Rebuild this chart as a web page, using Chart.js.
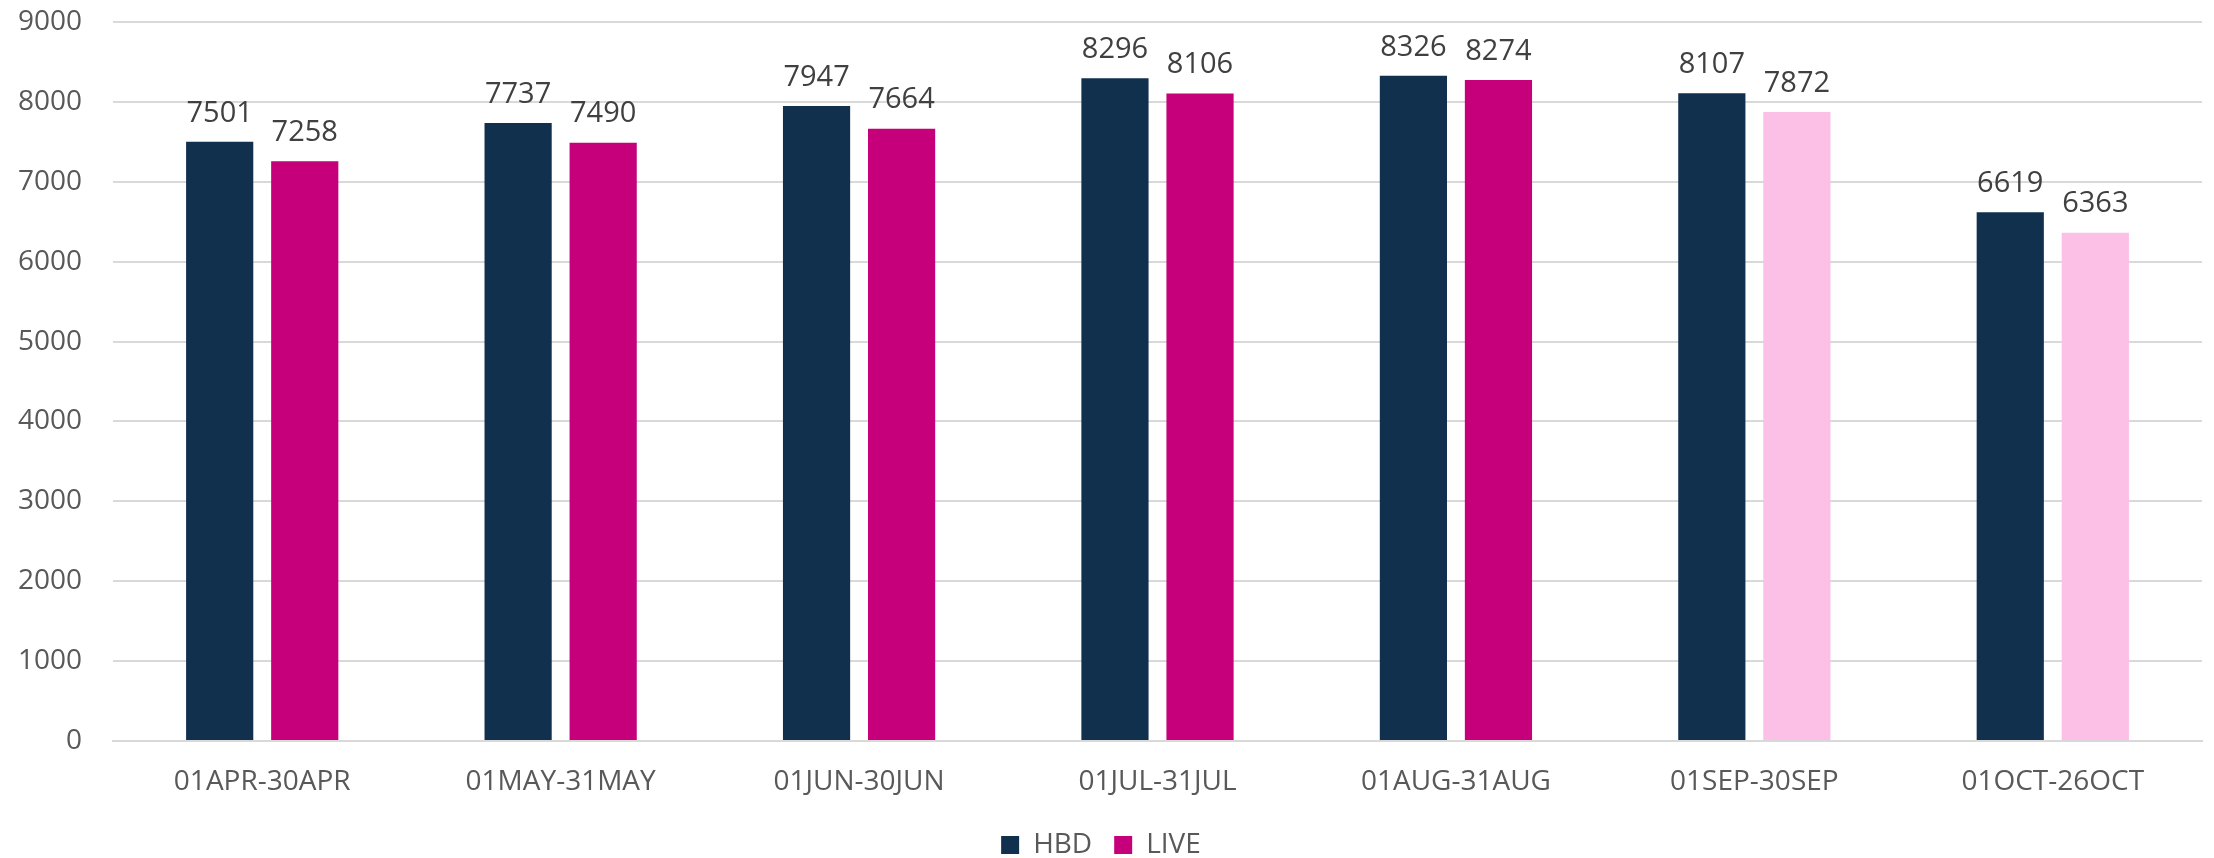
<!DOCTYPE html>
<html>
<head>
<meta charset="utf-8">
<script src="https://cdn.jsdelivr.net/npm/chart.js@4"></script>
<style>
  html, body { margin: 0; padding: 0; background: #ffffff; }
  canvas { display: block; }
</style>
</head>
<body>
<canvas id="chart" width="2214" height="858"></canvas>
<script>
// Dati del grafico
const periods = ['01APR-30APR', '01MAY-31MAY', '01JUN-30JUN', '01JUL-31JUL', '01AUG-31AUG', '01SEP-30SEP', '01OCT-26OCT'];
const hbdValues = [7501, 7737, 7947, 8296, 8326, 8107, 6619];
const liveValues = [7258, 7490, 7664, 8106, 8274, 7872, 6363];
const yTicks = [0, 1000, 2000, 3000, 4000, 5000, 6000, 7000, 8000, 9000];

// Colori
const navy = '#11304e';
const magenta = '#c5007a';
const pink = '#fcbfe5';
// le ultime due barre LIVE sono in rosa chiaro
const liveColors = liveValues.map((v, i) => i >= 5 ? pink : magenta);

// Plugin per le etichette sopra le barre
const valueLabels = {
  id: 'valueLabels',
  afterDatasetsDraw(chart) {
    const ctx = chart.ctx;
    ctx.save();
    ctx.font = '29px "Open Sans"';
    ctx.fillStyle = '#404040';
    ctx.textAlign = 'center';
    ctx.textBaseline = 'bottom';
    chart.data.datasets.forEach((ds, di) => {
      chart.getDatasetMeta(di).data.forEach((bar, i) => {
        ctx.fillText(ds.data[i], bar.x, bar.y - 14);
      });
    });
    ctx.restore();
  }
};

const ctx = document.getElementById('chart').getContext('2d');
new Chart(ctx, {
  type: 'bar',
  data: {
    labels: periods,
    datasets: [
      { label: 'HBD', data: hbdValues, backgroundColor: navy },
      { label: 'LIVE', data: liveValues, backgroundColor: liveColors }
    ]
  },
  options: {
    responsive: false,
    animation: false,
    layout: { padding: { top: 0, right: 12, left: 0, bottom: -11 } },
    categoryPercentage: 0.57,
    barPercentage: 0.79,
    scales: {
      x: {
        grid: { display: false },
        border: { color: '#d9d9d9', width: 2 },
        afterFit: axis => { axis.height = 68; },
        ticks: {
          color: '#595959',
          font: { family: 'Open Sans', size: 28 },
          padding: 16,
          maxRotation: 0
        }
      },
      y: {
        min: 0,
        max: 9000,
        afterBuildTicks: axis => { axis.ticks = yTicks.map(v => ({ value: v })); },
        afterFit: axis => {
          axis.width = 113;
          // il padding delle etichette non deve spostare l'area in alto
          axis.paddingTop = 22;
          axis.paddingBottom = 0;
        },
        grid: { color: '#d9d9d9', lineWidth: 2, drawTicks: false },
        border: { display: false },
        ticks: {
          color: '#595959',
          font: { family: 'Open Sans', size: 28 },
          padding: 31,
          callback: v => String(v)
        }
      }
    },
    plugins: {
      legend: {
        position: 'bottom',
        labels: {
          color: '#595959',
          font: { family: 'Open Sans', size: 28 },
          boxWidth: 18,
          boxHeight: 18,
          padding: 22,
          generateLabels: chart => chart.data.datasets.map((ds, i) => ({
            text: ds.label,
            fillStyle: i === 0 ? navy : magenta,
            strokeStyle: i === 0 ? navy : magenta,
            lineWidth: 0,
            fontColor: '#595959',
            datasetIndex: i
          }))
        }
      },
      tooltip: { enabled: false }
    }
  },
  plugins: [valueLabels]
});
</script>
</body>
</html>
